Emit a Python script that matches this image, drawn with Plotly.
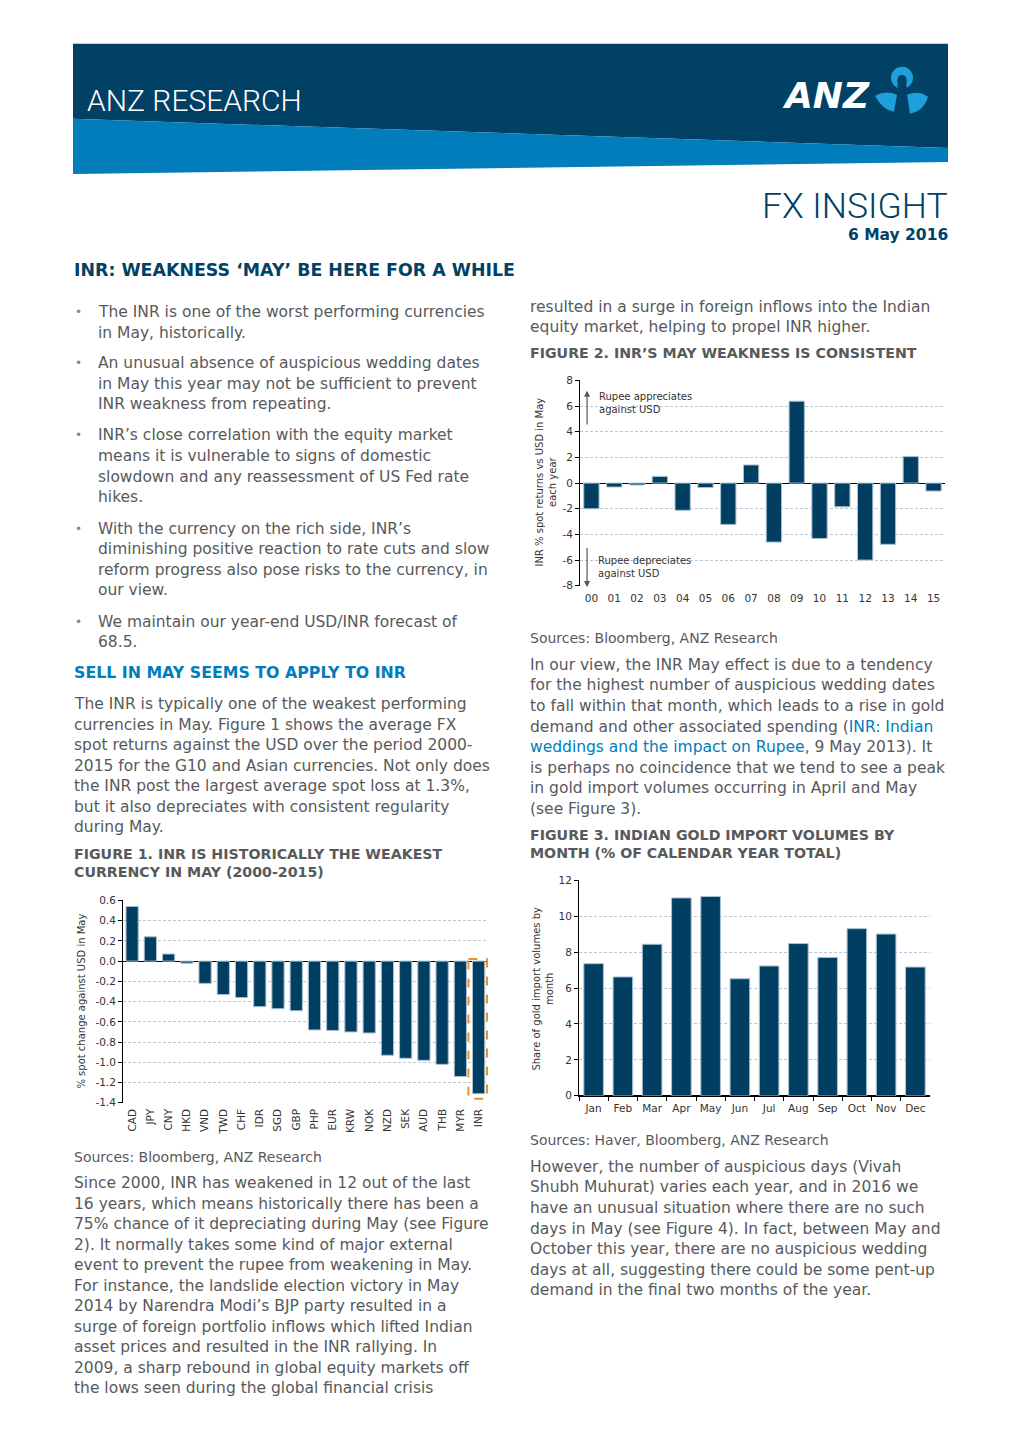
import plotly.graph_objects as go

# ---------------- data ----------------
fig1_currencies = ["CAD", "JPY", "CNY", "HKD", "VND", "TWD", "CHF", "IDR", "SGD", "GBP",
                   "PHP", "EUR", "KRW", "NOK", "NZD", "SEK", "AUD", "THB", "MYR", "INR"]
fig1_values = [0.54, 0.24, 0.07, -0.02, -0.22, -0.33, -0.36, -0.45, -0.47, -0.49,
               -0.68, -0.685, -0.70, -0.71, -0.93, -0.96, -0.98, -1.02, -1.14, -1.31]
fig1_ticks = [0.6, 0.4, 0.2, 0.0, -0.2, -0.4, -0.6, -0.8, -1.0, -1.2, -1.4]
fig1_ticktext = ["0.6", "0.4", "0.2", "0.0", "-0.2", "-0.4", "-0.6", "-0.8", "-1.0", "-1.2", "-1.4"]

fig2_years = ["00", "01", "02", "03", "04", "05", "06", "07", "08", "09",
              "10", "11", "12", "13", "14", "15"]
fig2_values = [-2.0, -0.31, -0.15, 0.52, -2.12, -0.35, -3.22, 1.41, -4.6, 6.38,
               -4.32, -1.85, -6.0, -4.77, 2.06, -0.62]
fig2_ticks = [8, 6, 4, 2, 0, -2, -4, -6, -8]
fig2_ticktext = ["8", "6", "4", "2", "0", "-2", "-4", "-6", "-8"]

fig3_months = ["Jan", "Feb", "Mar", "Apr", "May", "Jun", "Jul", "Aug", "Sep", "Oct", "Nov", "Dec"]
fig3_values = [7.36, 6.62, 8.44, 11.02, 11.1, 6.52, 7.23, 8.48, 7.71, 9.31, 9.01, 7.17]

# figure is sized to fit inside the page's default 8px body margin
OFF = 8
W, H = 1020 - 2 * OFF, 1442 - 2 * OFF
# measured vertical correction of the capture (page y -> picture y)
CAP_A, CAP_B = 6.46, 0.9896
NAVY = "#004165"
BLUE = "#007DBA"
GREY = "#58595B"
BAR = "#003F62"
BAR_EDGE = "#A9BFD0"
GRID = "#B8C8D6"
BODY = "DejaVu Sans, Verdana, sans-serif"


def fx(x):
    return (x - OFF) / W


def fy(y):
    page = (y - CAP_A) / CAP_B
    return 1 - (page - OFF) / H


fig = go.Figure()

fig.add_trace(go.Bar(x=fig1_currencies, y=fig1_values, xaxis="x", yaxis="y",
                     marker=dict(color=BAR, line=dict(color=BAR_EDGE, width=1)),
                     showlegend=False, hoverinfo="x+y"))
fig.add_trace(go.Bar(x=fig2_years, y=fig2_values, xaxis="x2", yaxis="y2",
                     marker=dict(color=BAR, line=dict(color=BAR_EDGE, width=1)),
                     showlegend=False, hoverinfo="x+y"))
fig.add_trace(go.Bar(x=fig3_months, y=fig3_values, xaxis="x3", yaxis="y3",
                     marker=dict(color=BAR, line=dict(color=BAR_EDGE, width=1)),
                     showlegend=False, hoverinfo="x+y"))

tickfont = dict(family=BODY, size=10.5, color="#333333")

yaxis_common = dict(showline=True, linecolor="#000000", linewidth=1, ticks="outside",
                    ticklen=4, tickcolor="#000000", showgrid=True, gridcolor=GRID,
                    griddash="3px,2px", gridwidth=1, tickfont=tickfont,
                    zeroline=True, zerolinecolor="#000000", zerolinewidth=1, fixedrange=True)

fig.update_layout(
    width=W, height=H,
    margin=dict(l=0, r=0, t=0, b=0),
    paper_bgcolor="white", plot_bgcolor="white",
    barmode="group",
    bargap=0.33,
    xaxis=dict(domain=[fx(123), fx(488)], anchor="y", tickangle=-90, tickfont=tickfont,
               showline=False, ticks="", ticklabelstandoff=3, showgrid=False, fixedrange=True),
    yaxis=dict(domain=[fy(1101), fy(899)], anchor="x", range=[-1.4, 0.6],
               tickvals=fig1_ticks, ticktext=fig1_ticktext, **yaxis_common),
    xaxis2=dict(domain=[fx(580), fx(945)], anchor="y2", tickangle=0, tickfont=tickfont,
                showline=False, ticks="", ticklabelstandoff=5, showgrid=False, fixedrange=True),
    yaxis2=dict(domain=[fy(585), fy(380)], anchor="x2", range=[-8, 8],
                tickvals=fig2_ticks, ticktext=fig2_ticktext, **yaxis_common),
    xaxis3=dict(domain=[fx(579), fx(930)], anchor="y3", tickangle=0, tickfont=tickfont,
                showline=True, linecolor="#000000", ticks="outside", tickson="boundaries",
                ticklen=4, tickcolor="#000000", ticklabelstandoff=3, showgrid=False,
                fixedrange=True),
    yaxis3=dict(domain=[fy(1094), fy(879)], anchor="x3", range=[0, 12], dtick=2,
                **yaxis_common),
)

shapes = []
# header dark band
shapes.append(dict(type="path", xref="paper", yref="paper",
                   path=f"M {fx(73)} {fy(44)} L {fx(948)} {fy(44)} L {fx(948)} {fy(148)} L {fx(73)} {fy(119)} Z",
                   fillcolor=NAVY, line=dict(width=0), layer="below"))
shapes.append(dict(type="path", xref="paper", yref="paper",
                   path=f"M {fx(73)} {fy(119)} L {fx(948)} {fy(148)} L {fx(948)} {fy(162)} L {fx(73)} {fy(174)} Z",
                   fillcolor=BLUE, line=dict(width=0), layer="below"))
# logo symbol (light blue)
LB = "#1FA0DC"
shapes.append(dict(type="circle", xref="paper", yref="paper",
                   x0=fx(891), x1=fx(913), y0=fy(89), y1=fy(67),
                   fillcolor=LB, line=dict(width=0)))
shapes.append(dict(type="circle", xref="paper", yref="paper",
                   x0=fx(897.5), x1=fx(906.5), y0=fy(86), y1=fy(75),
                   fillcolor=NAVY, line=dict(width=0)))
shapes.append(dict(type="rect", xref="paper", yref="paper",
                   x0=fx(897.5), x1=fx(906.5), y0=fy(90), y1=fy(80),
                   fillcolor=NAVY, line=dict(width=0)))
shapes.append(dict(type="path", xref="paper", yref="paper",
                   path=(f"M {fx(875)} {fy(96)} Q {fx(886)} {fy(90)} {fx(897)} {fy(95)} "
                         f"L {fx(894)} {fy(112)} Q {fx(882)} {fy(110)} {fx(875)} {fy(96)} Z"),
                   fillcolor=LB, line=dict(width=0)))
shapes.append(dict(type="path", xref="paper", yref="paper",
                   path=(f"M {fx(907)} {fy(95)} Q {fx(918)} {fy(90)} {fx(928)} {fy(97)} "
                         f"Q {fx(924)} {fy(111)} {fx(910)} {fy(114)} Z"),
                   fillcolor=LB, line=dict(width=0)))
# INR highlight box (figure 1)
shapes.append(dict(type="rect", xref="x", yref="y", x0=18.44, x1=19.46, y0=0.02, y1=-1.36,
                   line=dict(color="#E8912D", width=2, dash="dash"), fillcolor="rgba(0,0,0,0)"))
fig.update_layout(shapes=shapes)

ann = []


def txt(x, y, s, size=15.5, color=GREY, bold=False, family=BODY, anchor="left", weight=None):
    f = dict(family=family, size=size, color=color)
    if bold:
        f["weight"] = "bold"
    if weight is not None:
        f["weight"] = weight
    ann.append(dict(x=fx(x), y=fy(y), xref="paper", yref="paper", text=s, showarrow=False,
                    xanchor=anchor, yanchor="middle", font=f, align=anchor, borderpad=0))


# header texts
txt(86, 101, "ANZ RESEARCH", size=30, color="white", family="Roboto, sans-serif", weight=300)
txt(781, 96, "<i>ANZ</i>", size=36, color="white", family="DejaVu Sans, sans-serif", weight="bold")
txt(949, 206, "FX INSIGHT", size=35.5, color=NAVY, family="Roboto, sans-serif", anchor="right", weight=300)
txt(949, 235, "6 May 2016", size=15.5, color=NAVY, bold=True, anchor="right")

txt(73, 270, "INR: WEAKNESS \u2018MAY\u2019 BE HERE FOR A WHILE", size=17.4, color=NAVY, bold=True)

LH = 20.5
bullets = [
    ["The INR is one of the worst performing currencies", "in May, historically."],
    ["An unusual absence of auspicious wedding dates", "in May this year may not be sufficient to prevent",
     "INR weakness from repeating."],
    ["INR\u2019s close correlation with the equity market", "means it is vulnerable to signs of domestic",
     "slowdown and any reassessment of US Fed rate", "hikes."],
    ["With the currency on the rich side, INR\u2019s", "diminishing positive reaction to rate cuts and slow",
     "reform progress also pose risks to the currency, in", "our view."],
    ["We maintain our year-end USD/INR forecast of", "68.5."],
]
bullet_starts = [312, 363, 435, 528, 621]
for start, lines in zip(bullet_starts, bullets):
    txt(74, start, "\u2022", size=12, color="#888888")
    for i, line in enumerate(lines):
        txt(97, start + i * LH, line)

txt(73, 672, "SELL IN MAY SEEMS TO APPLY TO INR", size=15.8, color=BLUE, bold=True)

para1 = ["The INR is typically one of the weakest performing",
         "currencies in May. Figure 1 shows the average FX",
         "spot returns against the USD over the period 2000-",
         "2015 for the G10 and Asian currencies. Not only does",
         "the INR post the largest average spot loss at 1.3%,",
         "but it also depreciates with consistent regularity",
         "during May."]
for i, line in enumerate(para1):
    txt(73, 703 + i * LH, line)

txt(73, 853, "FIGURE 1. INR IS HISTORICALLY THE WEAKEST", size=14.2, bold=True)
txt(73, 871, "CURRENCY IN MAY (2000-2015)", size=14.2, bold=True)

txt(73, 1155, "Sources: Bloomberg, ANZ Research", size=14)

para2 = ["Since 2000, INR has weakened in 12 out of the last",
         "16 years, which means historically there has been a",
         "75% chance of it depreciating during May (see Figure",
         "2). It normally takes some kind of major external",
         "event to prevent the rupee from weakening in May.",
         "For instance, the landslide election victory in May",
         "2014 by Narendra Modi\u2019s BJP party resulted in a",
         "surge of foreign portfolio inflows which lifted Indian",
         "asset prices and resulted in the INR rallying. In",
         "2009, a sharp rebound in global equity markets off",
         "the lows seen during the global financial crisis"]
for i, line in enumerate(para2):
    txt(73, 1181 + i * LH, line)

# right column
txt(529, 307, "resulted in a surge in foreign inflows into the Indian")
txt(529, 327, "equity market, helping to propel INR higher.")
txt(529, 353, "FIGURE 2. INR\u2019S MAY WEAKNESS IS CONSISTENT", size=14.2, bold=True)

txt(529, 637, "Sources: Bloomberg, ANZ Research", size=14)
link = f"<span style='color:{BLUE}'>"
para3 = ["In our view, the INR May effect is due to a tendency",
         "for the highest number of auspicious wedding dates",
         "to fall within that month, which leads to a rise in gold",
         f"demand and other associated spending ({link}INR: Indian</span>",
         f"{link}weddings and the impact on Rupee</span>, 9 May 2013). It",
         "is perhaps no coincidence that we tend to see a peak",
         "in gold import volumes occurring in April and May",
         "(see Figure 3)."]
for i, line in enumerate(para3):
    txt(529, 664 + i * LH, line)

txt(529, 834, "FIGURE 3. INDIAN GOLD IMPORT VOLUMES BY", size=14.2, bold=True)
txt(529, 852, "MONTH (% OF CALENDAR YEAR TOTAL)", size=14.2, bold=True)

txt(529, 1138, "Sources: Haver, Bloomberg, ANZ Research", size=14)
para4 = ["However, the number of auspicious days (Vivah",
         "Shubh Muhurat) varies each year, and in 2016 we",
         "have an unusual situation where there are no such",
         "days in May (see Figure 4). In fact, between May and",
         "October this year, there are no auspicious wedding",
         "days at all, suggesting there could be some pent-up",
         "demand in the final two months of the year."]
for i, line in enumerate(para4):
    txt(529, 1165 + i * LH, line)

# chart axis titles
axfont = dict(family=BODY, size=10, color="#333333")
ann.append(dict(x=fx(82), y=fy(1000), xref="paper", yref="paper", showarrow=False,
                text="% spot change against USD in May", textangle=-90, font=axfont,
                xanchor="center", yanchor="middle"))
ann.append(dict(x=fx(546), y=fy(482), xref="paper", yref="paper", showarrow=False,
                text="INR % spot returns vs USD in May<br>each year", textangle=-90, font=axfont,
                xanchor="center", yanchor="middle"))
ann.append(dict(x=fx(543), y=fy(987), xref="paper", yref="paper", showarrow=False,
                text="Share of gold import volumes by<br>month", textangle=-90, font=axfont,
                xanchor="center", yanchor="middle"))

# figure 2 annotations
ann.append(dict(x=fx(597), y=fy(403), xref="paper", yref="paper", showarrow=False,
                text="Rupee appreciates<br>against USD", font=axfont, align="left",
                xanchor="left", yanchor="middle"))
ann.append(dict(x=fx(596), y=fy(566), xref="paper", yref="paper", showarrow=False,
                text="Rupee depreciates<br>against USD", font=axfont, align="left",
                xanchor="left", yanchor="middle"))
ann.append(dict(x=-0.19, y=7.2, xref="x2", yref="y2", ax=-0.19, ay=4.45, axref="x2", ayref="y2",
                text="", showarrow=True, arrowhead=2, arrowsize=1, arrowwidth=1.2,
                arrowcolor="#555555"))
ann.append(dict(x=-0.19, y=-8.1, xref="x2", yref="y2", ax=-0.19, ay=-4.95, axref="x2", ayref="y2",
                text="", showarrow=True, arrowhead=2, arrowsize=1, arrowwidth=1.2,
                arrowcolor="#555555"))

fig.update_layout(annotations=ann)

fig.write_html("out.html", config={"displayModeBar": False})
